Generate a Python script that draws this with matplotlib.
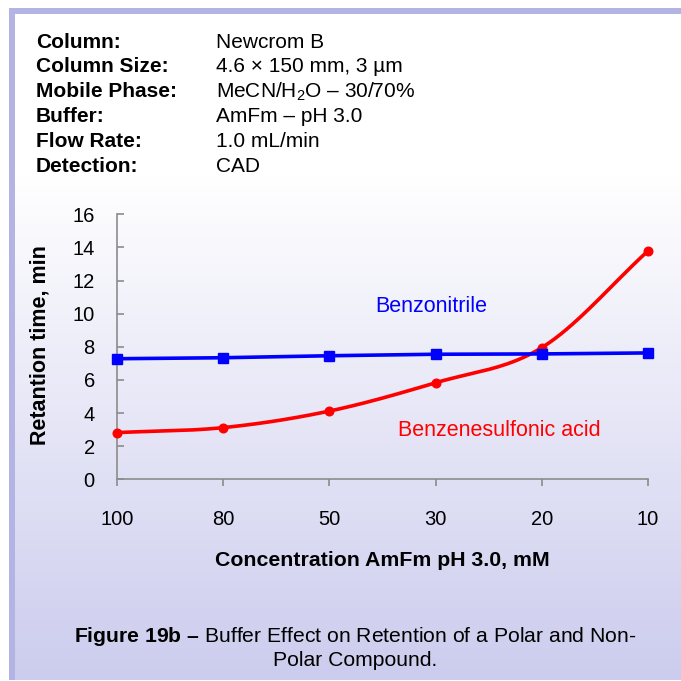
import numpy as np
import matplotlib
matplotlib.use("Agg")
import matplotlib.pyplot as plt
from matplotlib.patches import Rectangle

plt.rcParams['font.family'] = ['Liberation Sans', 'DejaVu Sans']
plt.rcParams['mathtext.fontset'] = 'custom'
plt.rcParams['mathtext.rm'] = 'Liberation Sans'
plt.rcParams['mathtext.bf'] = 'Liberation Sans:bold'
plt.rcParams['mathtext.it'] = 'Liberation Sans:italic'

# ---- data ----
concentrations = ["100", "80", "50", "30", "20", "10"]
benzonitrile = [7.28, 7.34, 7.46, 7.55, 7.57, 7.63]
benzenesulfonic = [2.82, 3.12, 4.12, 5.83, 7.95, 13.79]
y_ticks = [0, 2, 4, 6, 8, 10, 12, 14, 16]

header_labels = ["Column:", "Column Size:", "Mobile Phase:", "Buffer:", "Flow Rate:", "Detection:"]
header_values = ["Newcrom B", "4.6 \u00d7 150 mm, 3 \u00b5m", "MeCN/H$_2$O \u2013 30/70%",
                 "AmFm \u2013 pH 3.0", "1.0 mL/min", "CAD"]

W = H = 681
fig = plt.figure(figsize=(W / 100, H / 100), dpi=100)

def fx(px):
    return px / W

def fy(py):
    return 1 - py / H

# ---- background panel with gradient ----
bg = fig.add_axes([0, 0, 1, 1], zorder=-10)
bg.set_xlim(0, W)
bg.set_ylim(H, 0)
bg.axis('off')
top_c = np.array([1.0, 1.0, 1.0])
bot_c = np.array([204, 204, 238]) / 255
t = np.clip((np.linspace(0, H, 400) - 170) / (680 - 170), 0, 1)
grad = (top_c[None, :] * (1 - t[:, None]) + bot_c[None, :] * t[:, None])[:, None, :]
bg.imshow(grad, extent=[9, W, 680, 8], aspect='auto', interpolation='bilinear')
border_c = (180 / 255, 180 / 255, 228 / 255)
bg.add_patch(Rectangle((9, 8), W - 9, 5.5, color=border_c, lw=0))
bg.add_patch(Rectangle((9, 8), 5.5, 672, color=border_c, lw=0))

# ---- header ----
for i, (lab, val) in enumerate(zip(header_labels, header_values)):
    yy = 42 + i * 24.8
    fig.text(fx(36), fy(yy), lab, fontsize=15, fontweight='bold', va='center', ha='left')
    fig.text(fx(216), fy(yy), val, fontsize=15, va='center', ha='left')

# ---- main axes ----
left, right, top, bottom = 117, 648, 214.3, 479.3
ax = fig.add_axes([fx(left), fy(bottom), fx(right - left), (bottom - top) / H])
ax.patch.set_alpha(0)
x = np.arange(len(concentrations))

# smoothed red curve (Catmull-Rom through data points)
def catmull_rom(xs, ys, n=40):
    xs = np.asarray(xs, float)
    ys = np.asarray(ys, float)
    P = np.column_stack([xs, ys])
    P = np.vstack([2 * P[0] - P[1], P, 2 * P[-1] - P[-2]])
    out = []
    for i in range(1, len(P) - 2):
        p0, p1, p2, p3 = P[i - 1], P[i], P[i + 1], P[i + 2]
        tt = np.linspace(0, 1, n)[:, None]
        seg = 0.5 * ((2 * p1) + (-p0 + p2) * tt + (2 * p0 - 5 * p1 + 4 * p2 - p3) * tt ** 2
                     + (-p0 + 3 * p1 - 3 * p2 + p3) * tt ** 3)
        out.append(seg if i == len(P) - 3 else seg[:-1])
    out = np.vstack(out)
    return out[:, 0], out[:, 1]

sx, sy = catmull_rom(x, benzenesulfonic)
ax.plot(sx, sy, color='#ff0000', lw=2.6, solid_capstyle='round', zorder=3, clip_on=False)
ax.plot(x, benzenesulfonic, 'o', color='#ff0000', ms=6.2, zorder=4, clip_on=False)
ax.plot(x, benzonitrile, '-s', color='#0000ff', lw=2.6, ms=6.8, zorder=5, clip_on=False)

ax.set_xlim(0, len(concentrations) - 1)
ax.set_ylim(0, 16)
ax.set_xticks(x)
ax.set_xticklabels(concentrations)
ax.set_yticks(y_ticks)
for s in ['top', 'right']:
    ax.spines[s].set_visible(False)
for s in ['left', 'bottom']:
    ax.spines[s].set_color('#8c8c8c')
    ax.spines[s].set_linewidth(1.2)
ax.tick_params(axis='y', direction='in', length=5, width=1.2, color='#8c8c8c', pad=16, labelsize=14.5)
ax.tick_params(axis='x', direction='out', length=5, width=1.2, color='#8c8c8c', pad=17, labelsize=14.5)

# ---- labels ----
fig.text(fx(40), fy(345), "Retantion time, min", rotation=90, fontsize=15.5,
         fontweight='bold', ha='center', va='center')
fig.text(fx(382), fy(560), "Concentration AmFm pH 3.0, mM", fontsize=15.3,
         fontweight='bold', ha='center', va='center')
fig.text(fx(375), fy(307), "Benzonitrile", color='#0000ff', fontsize=15.5, ha='left', va='center')
fig.text(fx(398), fy(430), "Benzenesulfonic acid", color='#ff0000', fontsize=15.5, ha='left', va='center')

# ---- caption ----
fig.text(fx(355), fy(637), "$\\mathbf{Figure\\ 19b\\ \u2013}$ Buffer Effect on Retention of a Polar and Non-",
         fontsize=15.2, ha='center', va='center')
fig.text(fx(355), fy(661), "Polar Compound.", fontsize=15.2, ha='center', va='center')

fig.savefig("out.png", dpi=100)
